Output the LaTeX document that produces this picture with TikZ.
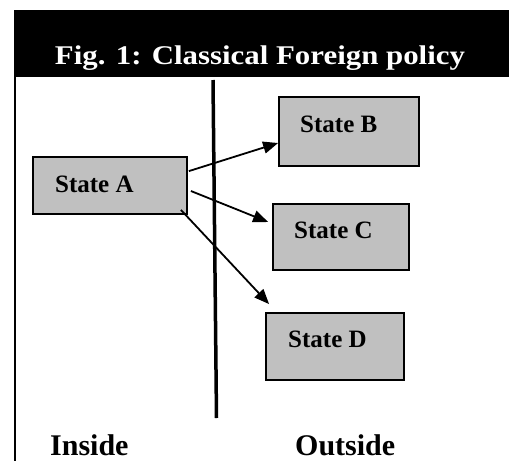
\documentclass[tikz,border=0pt]{standalone}
\usepackage{fontspec}
\setmainfont{Liberation Serif}
\usetikzlibrary{arrows.meta,calc}
\definecolor{boxgray}{HTML}{C0C0C0}
\begin{document}
\begin{tikzpicture}[x=1pt,y=-1pt,
  statebox/.style={draw=black,line width=1.8pt,fill=boxgray,inner sep=0pt},
  statelabel/.style={anchor=base west,inner sep=0pt,font=\fontsize{25}{29}\selectfont\bfseries},
  sidelabel/.style={anchor=base west,inner sep=0pt,font=\fontsize{30}{34}\selectfont\bfseries},
  link/.style={line width=1.8pt,-{Triangle[length=15pt,width=12pt]}}]
\useasboundingbox (0,0) rectangle (509,461);
% header band
\node[fill=black,draw=none,inner sep=0pt,minimum width=495pt,minimum height=67pt,anchor=north west] (header) at (14,10) {};
\node[anchor=base,inner sep=0pt,text=white,font=\fontsize{27}{32}\selectfont\bfseries] (title) at (260,64) {\resizebox{410pt}{\height}{Fig. 1: Classical Foreign policy}};
% left border and divider
\coordinate (lbtop) at (15,10);
\coordinate (lbbot) at (15,461);
\draw[line width=2.5pt] (lbtop) -- (lbbot);
\coordinate (divtop) at (213,80);
\coordinate (divbot) at (216.5,418);
\draw[line width=3.5pt] (divtop) -- (divbot);
% boxes
\node[statebox,minimum width=154pt,minimum height=57pt] (a) at (110,185.5) {};
\node[statebox,minimum width=140pt,minimum height=69pt] (b) at (349,131.5) {};
\node[statebox,minimum width=136pt,minimum height=66pt] (c) at (341,237) {};
\node[statebox,minimum width=138pt,minimum height=67pt] (d) at (335,346.5) {};
% labels
\node[statelabel] (la) at (55,192) {State A};
\node[statelabel] (lb) at (300,132) {State B};
\node[statelabel] (lc) at (294,238) {State C};
\node[statelabel] (ld) at (288,347) {State D};
\node[sidelabel] (inside) at (50,455) {Inside};
\node[sidelabel] (outside) at (295,455) {Outside};
% arrows
\draw[link] ($(a.north east)+(1,15)$) -- ($(b.west)+(0,11.5)$);
\draw[link] ($(a.east)+(3,5.5)$) -- ($(c.west)+(-4,-15)$);
\draw[link] ($(a.south east)+(-7,-5)$) -- ($(d.north west)+(4,-8)$);
\end{tikzpicture}
\end{document}
